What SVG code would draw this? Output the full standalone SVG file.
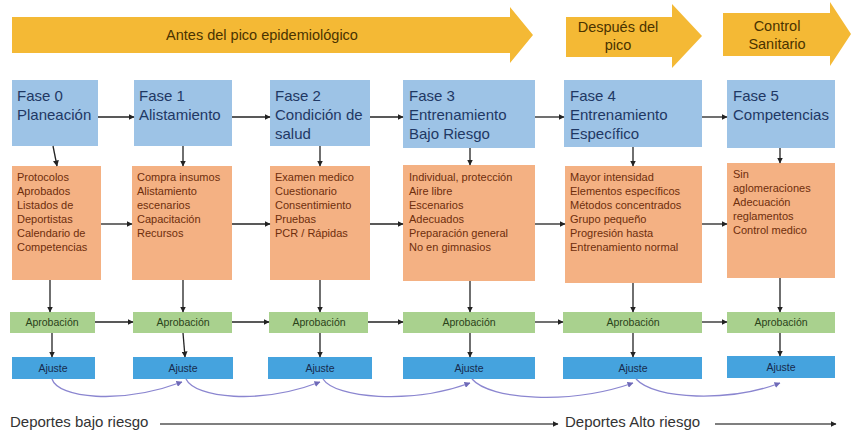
<svg xmlns="http://www.w3.org/2000/svg" width="851" height="431" viewBox="0 0 851 431">
<defs>
<style>
text{font-family:"Liberation Sans",Arial,sans-serif}
.ph{fill:#F4B935}
.pt{font-size:14.5px;fill:#4a3300;text-anchor:middle}
.bl{fill:#9DC3E6}
.bt{font-size:15px;fill:#1F3864}
.or{fill:#F4B183}
.ot{font-size:11px;fill:#6E2E0C}
.gr{fill:#A9D18E}
.gt{font-size:10.5px;fill:#2A4219;text-anchor:middle}
.aj{fill:#45A3DE}
.at{font-size:10.5px;fill:#172B4D;text-anchor:middle}
.c{stroke:#222;stroke-width:1.3;fill:none;marker-end:url(#ah)}
.cv{stroke:#8B86D0;stroke-width:1.3;fill:none;marker-end:url(#ahp)}
.bot{font-size:15px;fill:#333}
.bl2{stroke:#555;stroke-width:1.6;fill:none;marker-end:url(#ah)}
</style>
<marker id="ah" viewBox="0 0 6 6" refX="5.5" refY="3" markerWidth="6" markerHeight="6" markerUnits="userSpaceOnUse" orient="auto"><path d="M0,0 L6,3 L0,6 z" fill="#222"/></marker>
<marker id="ahp" viewBox="0 0 6 6" refX="5.5" refY="3" markerWidth="6" markerHeight="6" markerUnits="userSpaceOnUse" orient="auto"><path d="M0,0 L6,3 L0,6 z" fill="#6E69B8"/></marker>
</defs>
<rect width="851" height="431" fill="#ffffff"/>

<g id="phase-antes">
<polygon class="ph" points="12,17 510,17 510,7 533,35 510,63 510,53 12,53"/>
<text class="pt" x="262" y="40">Antes del pico epidemiológico</text>
</g>
<g id="phase-despues">
<polygon class="ph" points="566,17 672,17 672,4 702,36 672,68 672,57 566,57"/>
<text class="pt" x="618" y="32">Después del</text>
<text class="pt" x="618" y="50">pico</text>
</g>
<g id="phase-control">
<polygon class="ph" points="723,13 830,13 830,2 851,34 830,66 830,56 723,56"/>
<text class="pt" x="777" y="31">Control</text>
<text class="pt" x="777" y="49">Sanitario</text>
</g>

<g id="fase0">
<rect class="bl" x="12" y="80" width="86" height="66"/>
<text class="bt" x="17" y="101">Fase 0</text>
<text class="bt" x="17" y="120">Planeación</text>
</g>
<g id="fase1">
<rect class="bl" x="134" y="80" width="98" height="66"/>
<text class="bt" x="139" y="101">Fase 1</text>
<text class="bt" x="139" y="120">Alistamiento</text>
</g>
<g id="fase2">
<rect class="bl" x="270" y="80" width="100" height="66"/>
<text class="bt" x="275" y="101">Fase 2</text>
<text class="bt" x="275" y="120">Condición de</text>
<text class="bt" x="275" y="139">salud</text>
</g>
<g id="fase3">
<rect class="bl" x="403" y="80" width="132" height="68"/>
<text class="bt" x="409" y="101">Fase 3</text>
<text class="bt" x="409" y="120">Entrenamiento</text>
<text class="bt" x="409" y="139">Bajo Riesgo</text>
</g>
<g id="fase4">
<rect class="bl" x="564" y="80" width="138" height="67"/>
<text class="bt" x="570" y="101">Fase 4</text>
<text class="bt" x="570" y="120">Entrenamiento</text>
<text class="bt" x="570" y="139">Específico</text>
</g>
<g id="fase5">
<rect class="bl" x="727" y="80" width="108" height="68"/>
<text class="bt" x="733" y="101">Fase 5</text>
<text class="bt" x="733" y="120">Competencias</text>
</g>

<g id="detalle0">
<rect class="or" x="12" y="166" width="89" height="114"/>
<text class="ot" x="17" y="181">Protocolos</text>
<text class="ot" x="17" y="195">Aprobados</text>
<text class="ot" x="17" y="209">Listados de</text>
<text class="ot" x="17" y="223">Deportistas</text>
<text class="ot" x="17" y="237">Calendario de</text>
<text class="ot" x="17" y="251">Competencias</text>
</g>
<g id="detalle1">
<rect class="or" x="132" y="166" width="100" height="114"/>
<text class="ot" x="137" y="181">Compra insumos</text>
<text class="ot" x="137" y="195">Alistamiento</text>
<text class="ot" x="137" y="209">escenarios</text>
<text class="ot" x="137" y="223">Capacitación</text>
<text class="ot" x="137" y="237">Recursos</text>
</g>
<g id="detalle2">
<rect class="or" x="270" y="166" width="100" height="114"/>
<text class="ot" x="275" y="181">Examen medico</text>
<text class="ot" x="275" y="195">Cuestionario</text>
<text class="ot" x="275" y="209">Consentimiento</text>
<text class="ot" x="275" y="223">Pruebas</text>
<text class="ot" x="275" y="237">PCR / Rápidas</text>
</g>
<g id="detalle3">
<rect class="or" x="403" y="165" width="132" height="116"/>
<text class="ot" x="409" y="181">Individual, protección</text>
<text class="ot" x="409" y="195">Aire libre</text>
<text class="ot" x="409" y="209">Escenarios</text>
<text class="ot" x="409" y="223">Adecuados</text>
<text class="ot" x="409" y="237">Preparación general</text>
<text class="ot" x="409" y="251">No en gimnasios</text>
</g>
<g id="detalle4">
<rect class="or" x="565" y="166" width="137" height="117"/>
<text class="ot" x="570" y="181">Mayor intensidad</text>
<text class="ot" x="570" y="195">Elementos específicos</text>
<text class="ot" x="570" y="209">Métodos concentrados</text>
<text class="ot" x="570" y="223">Grupo pequeño</text>
<text class="ot" x="570" y="237">Progresión hasta</text>
<text class="ot" x="570" y="251">Entrenamiento normal</text>
</g>
<g id="detalle5">
<rect class="or" x="727" y="163" width="108" height="115"/>
<text class="ot" x="733" y="178">Sin</text>
<text class="ot" x="733" y="192">aglomeraciones</text>
<text class="ot" x="733" y="206">Adecuación</text>
<text class="ot" x="733" y="220">reglamentos</text>
<text class="ot" x="733" y="234">Control medico</text>
</g>

<g id="aprobacion0"><rect class="gr" x="10" y="312" width="85" height="21"/><text class="gt" x="52" y="326">Aprobación</text></g>
<g id="aprobacion1"><rect class="gr" x="133" y="312" width="99" height="21"/><text class="gt" x="183" y="326">Aprobación</text></g>
<g id="aprobacion2"><rect class="gr" x="269" y="312" width="99" height="21"/><text class="gt" x="319" y="326">Aprobación</text></g>
<g id="aprobacion3"><rect class="gr" x="403" y="312" width="132" height="21"/><text class="gt" x="469" y="326">Aprobación</text></g>
<g id="aprobacion4"><rect class="gr" x="563" y="312" width="139" height="21"/><text class="gt" x="633" y="326">Aprobación</text></g>
<g id="aprobacion5"><rect class="gr" x="727" y="312" width="108" height="21"/><text class="gt" x="781" y="326">Aprobación</text></g>

<g id="ajuste0"><rect class="aj" x="12" y="357" width="83" height="22"/><text class="at" x="53" y="372">Ajuste</text></g>
<g id="ajuste1"><rect class="aj" x="133" y="357" width="100" height="22"/><text class="at" x="183" y="372">Ajuste</text></g>
<g id="ajuste2"><rect class="aj" x="268" y="357" width="104" height="22"/><text class="at" x="320" y="372">Ajuste</text></g>
<g id="ajuste3"><rect class="aj" x="403" y="357" width="132" height="22"/><text class="at" x="469" y="372">Ajuste</text></g>
<g id="ajuste4"><rect class="aj" x="563" y="357" width="139" height="22"/><text class="at" x="633" y="372">Ajuste</text></g>
<g id="ajuste5"><rect class="aj" x="727" y="356" width="108" height="22"/><text class="at" x="781" y="371">Ajuste</text></g>

<g id="connectors">
<line class="c" x1="98" y1="117" x2="134" y2="117"/>
<line class="c" x1="232" y1="117" x2="270" y2="117"/>
<line class="c" x1="370" y1="117" x2="403" y2="117"/>
<line class="c" x1="535" y1="117" x2="564" y2="117"/>
<line class="c" x1="702" y1="117" x2="727" y2="117"/>

<line class="c" x1="101" y1="224" x2="132" y2="224"/>
<line class="c" x1="232" y1="224" x2="270" y2="224"/>
<line class="c" x1="370" y1="224" x2="403" y2="224"/>
<line class="c" x1="535" y1="224" x2="565" y2="224"/>
<line class="c" x1="702" y1="224" x2="727" y2="224"/>

<line class="c" x1="95" y1="322" x2="133" y2="322"/>
<line class="c" x1="232" y1="322" x2="269" y2="322"/>
<line class="c" x1="368" y1="322" x2="403" y2="322"/>
<line class="c" x1="535" y1="322" x2="563" y2="322"/>
<line class="c" x1="702" y1="322" x2="727" y2="322"/>

<line class="c" x1="53" y1="146" x2="57" y2="166"/>
<line class="c" x1="183" y1="146" x2="183" y2="166"/>
<line class="c" x1="320" y1="146" x2="320" y2="166"/>
<line class="c" x1="470" y1="148" x2="470" y2="165"/>
<line class="c" x1="633" y1="147" x2="633" y2="166"/>
<line class="c" x1="780" y1="148" x2="780" y2="163"/>

<line class="c" x1="50" y1="280" x2="50" y2="312"/>
<line class="c" x1="183" y1="280" x2="183" y2="312"/>
<line class="c" x1="320" y1="280" x2="320" y2="312"/>
<line class="c" x1="470" y1="281" x2="470" y2="312"/>
<line class="c" x1="633" y1="283" x2="633" y2="312"/>
<line class="c" x1="780" y1="278" x2="780" y2="312"/>

<line class="c" x1="52" y1="333" x2="52" y2="357"/>
<line class="c" x1="183" y1="333" x2="185" y2="357"/>
<line class="c" x1="320" y1="333" x2="320" y2="357"/>
<line class="c" x1="470" y1="333" x2="470" y2="357"/>
<line class="c" x1="633" y1="333" x2="633" y2="357"/>
<line class="c" x1="780" y1="333" x2="780" y2="356"/>

<path class="cv" d="M52,379 C58,398 120,405 182,382"/>
<path class="cv" d="M186,379 C195,398 260,405 320,382"/>
<path class="cv" d="M323,379 C335,398 410,405 470,383"/>
<path class="cv" d="M472,379 C490,400 570,405 633,383"/>
<path class="cv" d="M636,379 C655,400 730,402 780,383"/>

<line class="bl2" x1="160" y1="424" x2="558" y2="424"/>
<line class="bl2" x1="715" y1="424" x2="836" y2="424"/>
</g>

<text class="bot" x="10" y="427">Deportes bajo riesgo</text>
<text class="bot" x="565" y="427">Deportes Alto riesgo</text>
</svg>
